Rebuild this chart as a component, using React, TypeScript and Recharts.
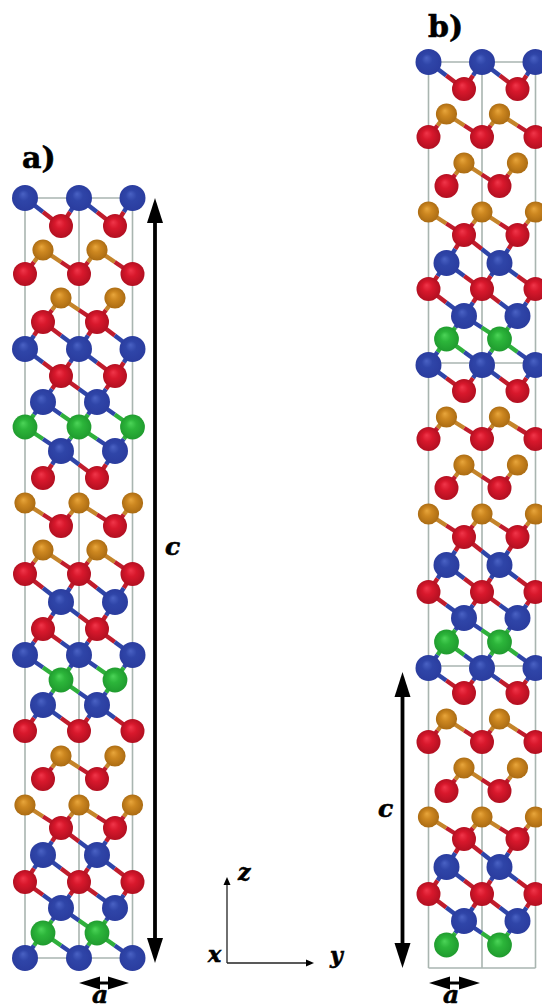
import { ScatterChart, Scatter, XAxis, YAxis } from 'recharts'

// columns of the three repeating layer types, picture units
const panelAColumns = { A: [25, 79, 132.5], B: [61, 115], C: [43, 97] }
const panelBColumns = { A: [428.5, 482, 535.5], B: [464, 517.5], C: [446.5, 499.5] }

const panelALayerY = [198, 226, 250, 274, 298, 322, 349, 376, 402, 427, 451, 478, 503, 526, 550, 574, 602, 629, 655, 680, 705, 731, 756, 779, 805, 828, 855, 882, 908, 933, 958]
const panelAKinds = 'BROROR BRB GBROROR BRB GBROROR BRB G B'.replace(/ /g, '')
const panelBLayerY = [62, 89, 114, 137, 163, 186, 212, 235, 263, 289, 316, 339, 365, 391, 417, 439, 465, 488, 514, 537, 565, 592, 618, 642, 668, 693, 719, 742, 768, 791, 817, 839, 867, 894, 921, 945]
const panelBKinds = 'BROROROR BRBG BROROROR BRBG BROROROR BRBG'.replace(/ /g, '')

const panelACellX = [25, 79, 132.5]
const panelACellY = [198, 958]
const panelBCellX = [428.5, 482, 535.5]
const panelBCellY = [62, 363, 666, 968]

const arrowTips = [
  { x: 155, y: 198, dir: 'up', size: 'big' },
  { x: 155, y: 963, dir: 'down', size: 'big' },
  { x: 402.5, y: 672, dir: 'up', size: 'big' },
  { x: 402.5, y: 968, dir: 'down', size: 'big' },
  { x: 79, y: 983, dir: 'left', size: 'wide' },
  { x: 129, y: 983, dir: 'right', size: 'wide' },
  { x: 429, y: 983, dir: 'left', size: 'wide' },
  { x: 480, y: 983, dir: 'right', size: 'wide' },
  { x: 227, y: 877, dir: 'up', size: 'small' },
  { x: 314, y: 963, dir: 'right', size: 'small' },
]
const arrowShafts = [
  [155, 215, 155, 945, 3.8],
  [402.5, 690, 402.5, 950, 3.8],
  [90, 983, 118, 983, 3],
  [440, 983, 469, 983, 3],
  [227, 883, 227, 963, 1.3],
  [227, 963, 308, 963, 1.3],
]
const labels = [
  { x: 22, y: 168, text: 'a)', style: 'title' },
  { x: 428, y: 37, text: 'b)', style: 'title' },
  { x: 165, y: 555, text: 'c', style: 'axis' },
  { x: 378, y: 817, text: 'c', style: 'axis' },
  { x: 92, y: 1003, text: 'a', style: 'axis' },
  { x: 443, y: 1003, text: 'a', style: 'axis' },
  { x: 238, y: 880, text: 'z', style: 'small' },
  { x: 208, y: 962, text: 'x', style: 'small' },
  { x: 330, y: 963, text: 'y', style: 'small' },
]

const atomColors = {
  B: { id: 'atomB', r: 13, light: '#4a62c4', base: '#2f45a8', dark: '#2a3c9e', bond: '#2f45a8' },
  R: { id: 'atomR', r: 12, light: '#f0364a', base: '#d8182c', dark: '#b00f20', bond: '#c01c2c' },
  O: { id: 'atomO', r: 10.6, light: '#e8a63c', base: '#cd8720', dark: '#a96a12', bond: '#c4842a' },
  G: { id: 'atomG', r: 12.4, light: '#4cd458', base: '#2cb53a', dark: '#1f9a2e', bond: '#2fb03c' },
}

type Atom = { x: number; y: number; kind: string }

function buildLayers(ys: number[], kinds: string, columns: Record<string, number[]>) {
  const order = ['A', 'B', 'C']
  return ys.map((y, i) =>
    columns[order[i % 3]].map((x) => ({ x, y, kind: kinds[i] } as Atom))
  )
}

// neighbouring layers are bonded unless a red layer sits on top of an orange one
function buildBonds(layers: Atom[][]) {
  const bonds: { from: Atom; to: { x: number; y: number }; color: string }[] = []
  layers.forEach((layer, i) => {
    const next = layers[i + 1]
    if (!next || (layer[0].kind === 'R' && next[0].kind === 'O')) return
    layer.forEach((a) => {
      next.forEach((b) => {
        if (Math.abs(a.x - b.x) > 40) return
        const mid = { x: (a.x + b.x) / 2, y: (a.y + b.y) / 2 }
        bonds.push({ from: a, to: mid, color: atomColors[a.kind].bond })
        bonds.push({ from: b, to: mid, color: atomColors[b.kind].bond })
      })
    })
  })
  return bonds
}

const layersA = buildLayers(panelALayerY, panelAKinds, panelAColumns)
const layersB = buildLayers(panelBLayerY, panelBKinds, panelBColumns)
const atoms = [...layersA.flat(), ...layersB.flat()]
const bonds = [...buildBonds(layersA), ...buildBonds(layersB)]

function cellLines(xs: number[], ys: number[]) {
  const top = ys[0]
  const bottom = ys[ys.length - 1]
  return [
    ...xs.map((x) => [{ x, y: top }, { x, y: bottom }]),
    ...ys.map((y) => [{ x: xs[0], y }, { x: xs[xs.length - 1], y }]),
  ]
}
const cells = [...cellLines(panelACellX, panelACellY), ...cellLines(panelBCellX, panelBCellY)]

const NoMark = () => <g />

const AtomMark = (props: any) => {
  const c = atomColors[props.payload.kind]
  return <circle cx={props.cx} cy={props.cy} r={c.r} fill={`url(#${c.id})`} />
}

const headSizes = { big: [25, 8], wide: [21, 6.5], small: [8, 3.5] }

const ArrowHead = (props: any) => {
  const { cx, cy, payload } = props
  const [len, half] = headSizes[payload.size]
  const points = {
    up: [[cx, cy], [cx - half, cy + len], [cx + half, cy + len]],
    down: [[cx, cy], [cx - half, cy - len], [cx + half, cy - len]],
    left: [[cx, cy], [cx + len, cy - half], [cx + len, cy + half]],
    right: [[cx, cy], [cx - len, cy - half], [cx - len, cy + half]],
  }[payload.dir]
  return <polygon points={points.map((p) => p.join(',')).join(' ')} fill="#000" />
}

const TextMark = (props: any) => {
  const { cx, cy, payload } = props
  const title = payload.style === 'title'
  return (
    <text
      x={cx}
      y={cy}
      fontFamily="'DejaVu Serif', serif"
      fontWeight="bold"
      fontStyle={title ? 'normal' : 'italic'}
      fontSize={title ? 30 : payload.style === 'small' ? 22 : 25}
      fill="#000"
      stroke="#000"
      strokeWidth={0.6}
    >
      {payload.text}
    </text>
  )
}

export default function App() {
  return (
    <div style={{ position: 'absolute', left: 0, top: 0, width: 542, height: 1005, overflow: 'hidden', background: '#fff' }}>
      <ScatterChart width={542} height={1005} margin={{ top: 0, right: 0, bottom: 0, left: 0 }}>
        <defs>
          {Object.values(atomColors).map((c) => (
            <radialGradient key={c.id} id={c.id} cx="50%" cy="50%" r="52%" fx="42%" fy="34%">
              <stop offset="0%" stopColor={c.light} />
              <stop offset="40%" stopColor={c.base} />
              <stop offset="100%" stopColor={c.dark} />
            </radialGradient>
          ))}
        </defs>
        <XAxis type="number" dataKey="x" domain={[0, 542]} hide />
        <YAxis type="number" dataKey="y" domain={[0, 1005]} reversed hide />

        {cells.map((line, i) => (
          <Scatter key={`cell${i}`} data={line} line={{ stroke: '#a9b5b0', strokeWidth: 1.6 }} shape={NoMark} isAnimationActive={false} />
        ))}
        {bonds.map((b, i) => (
          <Scatter key={`bond${i}`} data={[b.from, b.to]} line={{ stroke: b.color, strokeWidth: 4.4 }} shape={NoMark} isAnimationActive={false} />
        ))}
        <Scatter data={atoms} shape={AtomMark} isAnimationActive={false} />

        {arrowShafts.map(([x1, y1, x2, y2, w], i) => (
          <Scatter key={`shaft${i}`} data={[{ x: x1, y: y1 }, { x: x2, y: y2 }]} line={{ stroke: i > 3 ? '#222' : '#000', strokeWidth: w }} shape={NoMark} isAnimationActive={false} />
        ))}
        <Scatter data={arrowTips} shape={ArrowHead} isAnimationActive={false} />
        <Scatter data={labels} shape={TextMark} isAnimationActive={false} />
      </ScatterChart>
    </div>
  )
}
